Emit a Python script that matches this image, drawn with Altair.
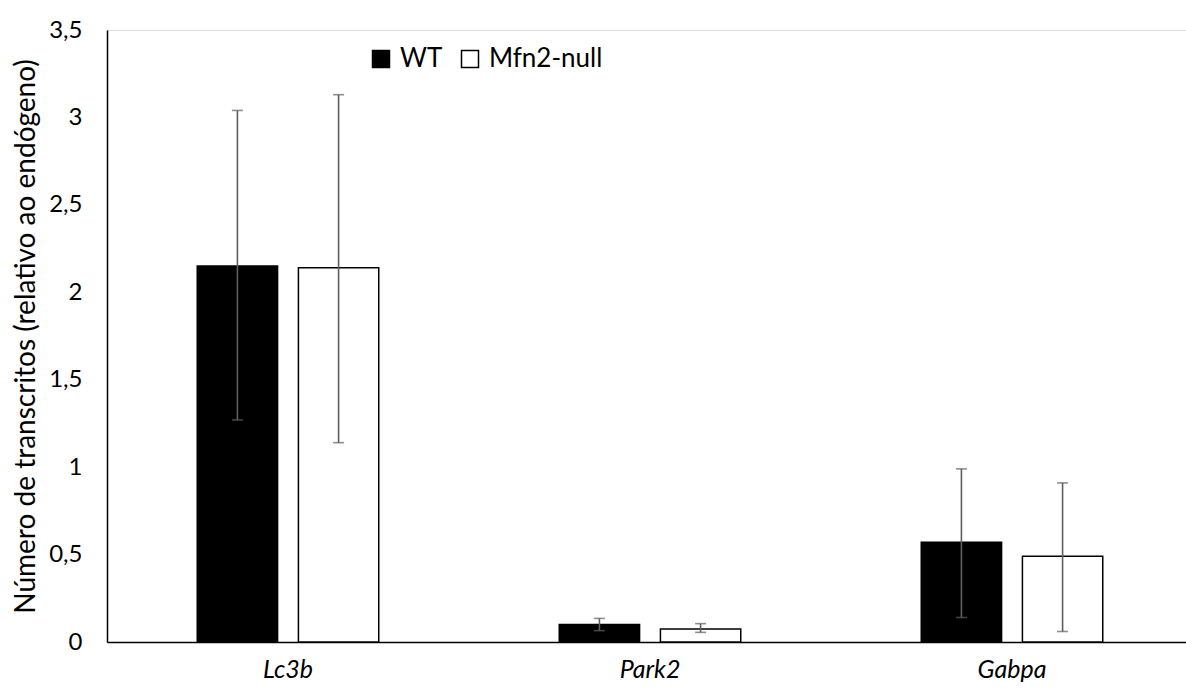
import altair as alt
import pandas as pd

genes = ["Lc3b", "Park2", "Gabpa"]
groups = ["WT", "Mfn2-null"]
wt_mean = [2.15, 0.10, 0.57]
wt_lo = [1.27, 0.065, 0.14]
wt_hi = [3.04, 0.135, 0.99]
ko_mean = [2.14, 0.075, 0.49]
ko_lo = [1.14, 0.055, 0.06]
ko_hi = [3.13, 0.105, 0.91]
y_ticks = [0, 0.5, 1, 1.5, 2, 2.5, 3, 3.5]

rows = []
for i, g in enumerate(genes):
    rows.append({"gene": g, "group": groups[0], "mean": wt_mean[i], "lo": wt_lo[i], "hi": wt_hi[i]})
    rows.append({"gene": g, "group": groups[1], "mean": ko_mean[i], "lo": ko_lo[i], "hi": ko_hi[i]})
df = pd.DataFrame(rows)

FONT = "Lato"

x = alt.X("gene:N", sort=genes, title=None,
          scale=alt.Scale(paddingInner=0, paddingOuter=0, range=[0, 1086]),
          axis=alt.Axis(labelAngle=0, ticks=False, domainColor="black", domainWidth=1.5,
                        labelFontStyle="italic", labelFontSize=25, labelFont=FONT,
                        labelColor="black", labelPadding=15))
xo = alt.XOffset("group:N", sort=groups,
                 scale=alt.Scale(paddingInner=0.206, paddingOuter=0.892))
y = alt.Y("mean:Q", title="Número de transcritos (relativo ao endógeno)",
          scale=alt.Scale(domain=[0, 3.5], nice=False),
          axis=alt.Axis(values=y_ticks, grid=False, ticks=False, domainColor="black",
                        domainWidth=1.5, labelFontSize=24, labelFont=FONT, labelColor="black",
                        labelPadding=25,
                        labelExpr="replace(toString(datum.value), '.', ',')",
                        titleFontSize=28, titleFont=FONT, titleFontWeight="normal",
                        titleColor="black", titlePadding=8))

bars = alt.Chart(df).mark_bar(stroke="black", strokeWidth=1.5).encode(
    x=x, xOffset=xo, y=y,
    fill=alt.Fill("group:N", sort=groups,
                  scale=alt.Scale(domain=groups, range=["black", "white"]),
                  legend=alt.Legend(title=None, orient="none", legendX=261, legendY=16,
                                    direction="horizontal", symbolType="square",
                                    symbolSize=289, symbolStrokeColor="black",
                                    symbolStrokeWidth=1.5, labelFontSize=26, labelFont=FONT,
                                    labelColor="black", labelOffset=6, columnPadding=14)),
)

err = alt.Chart(df).mark_rule(color="#5f5f5f", strokeWidth=1.6).encode(
    x=x, xOffset=xo, y="lo:Q", y2="hi:Q")
cap_lo = alt.Chart(df).mark_tick(color="#5f5f5f", thickness=1.6, size=11).encode(
    x=x, xOffset=xo, y="lo:Q")
cap_hi = alt.Chart(df).mark_tick(color="#5f5f5f", thickness=1.6, size=11).encode(
    x=x, xOffset=xo, y="hi:Q")

chart = alt.layer(bars, err, cap_lo, cap_hi).properties(
    width=1079, height=612,
    autosize=alt.AutoSizeParams(type="none"),
    padding={"left": 107, "top": 30, "right": 0, "bottom": 53},
).configure_view(stroke=None).configure(background="white")

chart.save("out.html", embed_options={"renderer": "svg", "actions": False})
